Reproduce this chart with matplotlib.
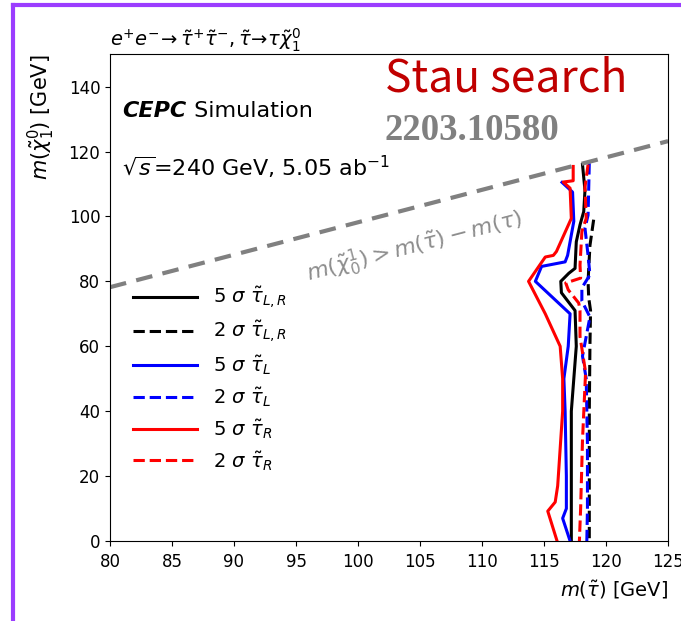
"""
    CEPC stau search: exclusion / discovery contours in the m(stau) - m(chi10) plane
"""
import matplotlib
matplotlib.use('Agg')
import matplotlib.pyplot as plt
from matplotlib.lines import Line2D

# 5 sigma, stau_{L,R}
black_y = [116, 108, 101.5, 97.4, 92.2, 84, 82.5, 80, 76.5, 71, 60, 50, 40, 30, 20, 10, 0]
black_x = [118.1, 118.3, 118.2, 117.9, 117.6, 117.5, 117.0, 116.35, 116.4, 117.5, 117.6, 117.4, 117.2, 117.2, 117.2, 117.2, 117.2]
# 2 sigma, stau_{L,R}
black_dash_y = [99, 91, 80, 75, 71, 60, 40, 20, 0]
black_dash_x = [119.0, 118.7, 118.55, 118.6, 118.75, 118.7, 118.65, 118.65, 118.65]
# 5 sigma, stau_L
blue_y = [110.5, 107.5, 98.5, 88, 86, 84.6, 80, 70, 60, 50, 40, 20, 10, 7, 0]
blue_x = [116.45, 117.3, 117.4, 116.9, 116.7, 114.8, 114.3, 117.1, 116.95, 116.6, 116.7, 116.8, 116.8, 116.5, 117.1]
# 2 sigma, stau_L
blue_dash_y = [116.4, 100.4, 96.4, 88, 82, 78, 74, 69, 57, 50, 30, 10, 0]
blue_dash_x = [118.65, 118.55, 118.3, 118.55, 118.7, 118.05, 118.05, 118.7, 118.1, 118.4, 118.5, 118.5, 118.45]
# 5 sigma, stau_R
red_y = [115.4, 111, 110.6, 108.7, 99.4, 89.2, 88, 87.5, 80, 70, 60, 50, 40, 17, 12, 9.2, 0]
red_x = [117.35, 117.35, 116.55, 117.1, 117.2, 116.0, 115.75, 115.1, 113.75, 115.1, 116.3, 116.5, 116.5, 116.1, 115.9, 115.3, 116.05]
# 2 sigma, stau_R
red_dash_y = [116, 109, 99.4, 95.3, 85, 81, 79.5, 77.4, 73.3, 71, 63, 52, 31, 10, 0]
red_dash_x = [118.55, 118.3, 118.4, 118.05, 117.9, 117.95, 116.75, 116.95, 117.8, 117.9, 117.9, 118.35, 118.1, 117.95, 117.85]

# kinematic limit m(chi) = m(stau) - m(tau)
diag_x = [80, 125]
diag_y = [78.2, 123.2]

x_ticks = [80, 85, 90, 95, 100, 105, 110, 115, 120, 125]
y_ticks = [0, 20, 40, 60, 80, 100, 120, 140]

fig = plt.figure(figsize=(6.81, 6.21), dpi=100)
ax = fig.add_axes([0.1615, 0.1288, 0.8195, 0.784])

ax.plot(black_x, black_y, '-', color='black', lw=2.2, label=r'5 $\sigma$ $\tilde{\tau}_{L,R}$')
ax.plot(black_dash_x, black_dash_y, '--', color='black', lw=2.2, label=r'2 $\sigma$ $\tilde{\tau}_{L,R}$')
ax.plot(blue_x, blue_y, '-', color='blue', lw=2.2, label=r'5 $\sigma$ $\tilde{\tau}_{L}$')
ax.plot(blue_dash_x, blue_dash_y, '--', color='blue', lw=2.2, label=r'2 $\sigma$ $\tilde{\tau}_{L}$')
ax.plot(red_x, red_y, '-', color='red', lw=2.2, label=r'5 $\sigma$ $\tilde{\tau}_{R}$')
ax.plot(red_dash_x, red_dash_y, '--', color='red', lw=2.2, label=r'2 $\sigma$ $\tilde{\tau}_{R}$')

ax.plot(diag_x, diag_y, '--', color='grey', lw=3, dashes=(4, 2.5))
ax.text(104.6, 90.8, r'$m(\tilde{\chi}^{1}_{0}) > m(\tilde{\tau}) - m(\tau)$',
        rotation=14.7, ha='center', va='center', color='grey', fontsize=16, alpha=0.9)

ax.set_xlim(80, 125)
ax.set_ylim(0, 150)
ax.set_xticks(x_ticks)
ax.set_yticks(y_ticks)
ax.tick_params(labelsize=12)
ax.tick_params(axis='x', pad=5)
ax.set_xlabel(r'$m(\tilde{\tau})$ [GeV]', fontsize=14, loc='right', labelpad=6)
ax.set_ylabel(r'$m(\tilde{\chi}_1^0)$ [GeV]', fontsize=15, loc='top', labelpad=8)
ax.set_title(r'$e^{+}e^{-}\!\rightarrow\tilde{\tau}^{+}\tilde{\tau}^{-}, \tilde{\tau}\!\rightarrow\!\tau\tilde{\chi}^{0}_{1}$',
             loc='left', fontsize=14, pad=6)

leg = ax.legend(loc='upper left', bbox_to_anchor=(0.01, 0.562), frameon=False, fontsize=14,
                handlelength=3.3, labelspacing=0.43)

t1 = ax.text(0.022, 0.87, 'CEPC', transform=ax.transAxes, fontsize=16,
             fontweight='bold', style='italic', va='baseline')
ax.annotate(' Simulation', xy=(1, 0), xycoords=t1, fontsize=16, va='bottom')
ax.text(0.022, 0.75, r'$\sqrt{s}$=240 GeV, 5.05 ab$^{-1}$', transform=ax.transAxes,
        fontsize=16, va='baseline')

fig.text(0.565, 0.874, 'Stau search', color='#C00000', fontsize=32,
         family=['Noto Sans CJK SC', 'DejaVu Sans'], va='center')
fig.text(0.565, 0.79, '2203.10580', color='#808080', fontsize=26.5,
         family='Liberation Serif', fontweight='bold', va='center')

# purple frame from the slide
fig.add_artist(Line2D([0.019, 0.019], [0, 0.992], transform=fig.transFigure, color='#9B3DFF', lw=3))
fig.add_artist(Line2D([0.019, 1.0], [0.992, 0.992], transform=fig.transFigure, color='#9B3DFF', lw=3))

fig.savefig('out.png', dpi=100)
